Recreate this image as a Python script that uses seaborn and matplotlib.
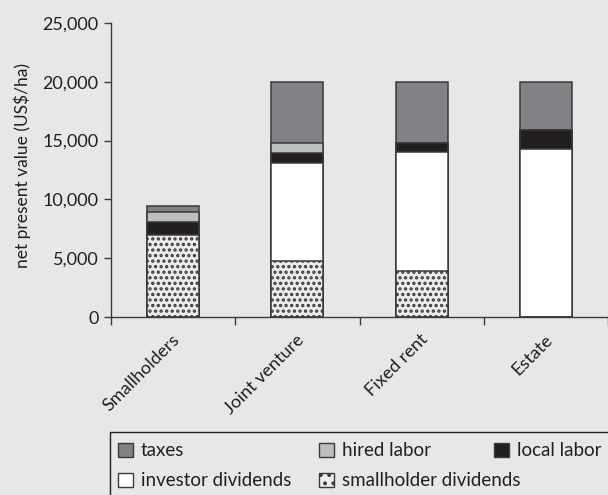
import numpy as np
import pandas as pd
import matplotlib.pyplot as plt
import matplotlib.transforms as mtransforms
import seaborn as sns
from matplotlib.patches import Rectangle
from matplotlib.ticker import FuncFormatter

# Values (US$/ha)
schemes = ['Smallholders', 'Joint venture', 'Fixed rent', 'Estate']
smallholder_dividends = [7000, 4750, 3900, 0]
investor_dividends = [0, 8350, 10100, 14300]
local_labor = [1100, 850, 800, 1600]
hired_labor = [800, 850, 0, 0]
taxes = [500, 5200, 5200, 4100]

# stacking order, bottom to top
layers = [
    ('smallholder dividends', smallholder_dividends, '#ebeceb', '...'),
    ('investor dividends', investor_dividends, '#ffffff', None),
    ('local labor', local_labor, '#231f20', None),
    ('hired labor', hired_labor, '#bcbec0', None),
    ('taxes', taxes, '#808285', None),
]

bg = '#e6e8e7'
edge = '#3a3a3a'
ink = '#231f20'

sns.set_style('ticks')
plt.rcParams['font.family'] = ['Lato', 'DejaVu Sans']
plt.rcParams['hatch.color'] = '#444444'
plt.rcParams['hatch.linewidth'] = 1.6

fig = plt.figure(figsize=(6.08, 4.95), dpi=100, facecolor=bg)
ax = fig.add_axes([111 / 608, 1 - 317 / 495, 1 - 111 / 608, (317 - 23) / 495])
ax.set_facecolor(bg)

# cumulative tops, draw tallest first so lower segments sit on top
df = pd.DataFrame({name: vals for name, vals, _, _ in layers}, index=schemes)
cum = df.cumsum(axis=1)
for name, vals, color, hatch in reversed(layers):
    sns.barplot(x=schemes, y=cum[name].values, color=color, saturation=1,
                width=0.42, edgecolor=edge, linewidth=1.1, hatch=hatch, ax=ax)

ax.set_ylim(0, 25000)
ax.set_xlim(-0.5, 3.444)
ax.set_yticks(np.arange(0, 25001, 5000))
ax.yaxis.set_major_formatter(FuncFormatter(lambda v, p: f'{int(v):,}'))
ax.set_ylabel('net present value (US$/ha)', fontsize=12.5, color=ink)
ax.yaxis.set_label_coords(-0.16, 0.517)
ax.set_xlabel('')

ax.set_xticks(range(len(schemes)))
ax.set_xticklabels(schemes, fontsize=13, color=ink)
ax.set_xticks(np.arange(-0.5, len(schemes), 1), minor=True)
ax.tick_params(axis='x', which='major', length=0, pad=0)
ax.tick_params(axis='x', which='minor', length=6, width=1, color=edge, direction='out')
ax.tick_params(axis='y', length=5, width=1, color=edge, labelsize=13, labelcolor=ink, pad=4)

shift = mtransforms.ScaledTranslation(4 / 100, -20 / 100, fig.dpi_scale_trans)
for lab in ax.get_xticklabels():
    lab.set_rotation(45)
    lab.set_rotation_mode('anchor')
    lab.set_ha('right')
    lab.set_va('center')
    lab.set_transform(lab.get_transform() + shift)

for side in ['top', 'right']:
    ax.spines[side].set_visible(False)
for side in ['left', 'bottom']:
    ax.spines[side].set_color(edge)
    ax.spines[side].set_linewidth(1.0)

# legend box, laid out by rows like the original
W, H = 608, 495
fig.patches.append(Rectangle((110 / W, -0.2), 1.0, 1 - 432 / H + 0.2, transform=fig.transFigure,
                             facecolor='none', edgecolor=ink, linewidth=1.0))
legend_slots = [('taxes', 118, 450), ('hired labor', 319, 450), ('local labor', 494, 450),
                ('investor dividends', 118, 480), ('smallholder dividends', 319, 480)]
styles = {name: (color, hatch) for name, _, color, hatch in layers}
for name, px, py in legend_slots:
    color, hatch = styles[name]
    fig.patches.append(Rectangle((px / W, 1 - (py + 7) / H), 15 / W, 14 / H, transform=fig.transFigure,
                                 facecolor=color, edgecolor=edge, linewidth=1.0,
                                 hatch='..' if hatch else None))
    fig.text((px + 23) / W, 1 - py / H, name, fontsize=13.5, va='center', ha='left', color=ink)

fig.savefig('out.png', dpi=100, facecolor=bg)
